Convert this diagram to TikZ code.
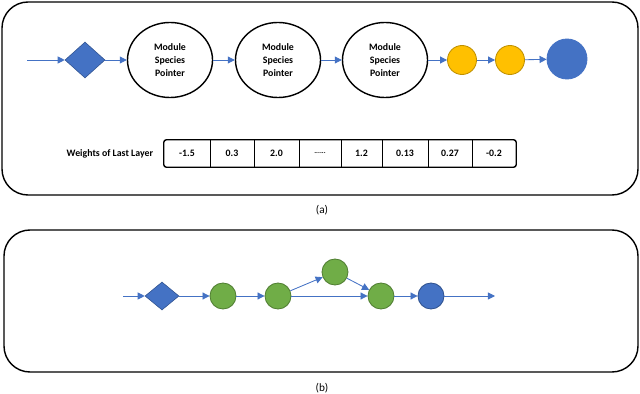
\documentclass[tikz,border=0pt]{standalone}
\usepackage{fontspec}
\setmainfont{Carlito}
\usepackage{tikz}
\usetikzlibrary{arrows.meta,shapes.geometric}

\definecolor{officeblue}{HTML}{4472C4}
\definecolor{darkblue}{HTML}{2F528F}
\definecolor{officegold}{HTML}{FFC000}
\definecolor{darkgold}{HTML}{BF9000}
\definecolor{officegreen}{HTML}{70AD47}
\definecolor{darkgreen}{HTML}{507E32}

\begin{document}
\begin{tikzpicture}[x=0.025cm, y=-0.025cm,
	every node/.style={font=\fontsize{7}{9}\selectfont},
	>={Triangle[length=5pt, width=5pt]},
	flow/.style={->, officeblue, line width=0.6pt},
	panel/.style={draw, line width=1pt, rounded corners=0.65cm},
	gate/.style={diamond, draw=darkblue, fill=officeblue, inner sep=0pt, minimum width=1cm, minimum height=0.9cm},
	module/.style={ellipse, draw, line width=1pt, minimum width=2.125cm, minimum height=1.875cm, align=center, font=\fontsize{7}{9}\selectfont\bfseries},
	spot/.style={circle, draw, line width=0.6pt, inner sep=0pt},
	caption/.style={font=\fontsize{8}{10}\selectfont}]
	\useasboundingbox (0,0) rectangle (640,394);
	% panel (a)
	\draw[panel] (2,2) rectangle (638,195);
	\coordinate (ain) at (27,60);
	\node[gate] (ad) at (85,60) {};
	\node[module] (e1) at (170,60) {Module\\Species\\Pointer};
	\node[module] (e2) at (278,60) {Module\\Species\\Pointer};
	\node[module] (e3) at (385,60) {Module\\Species\\Pointer};
	\node[spot, fill=officegold, draw=darkgold, minimum size=0.725cm] (y1) at (462,60) {};
	\node[spot, fill=officegold, draw=darkgold, minimum size=0.725cm] (y2) at (510,60) {};
	\node[spot, fill=officeblue, draw=officeblue, minimum size=1cm] (ab) at (567,59) {};
	\draw[flow] (ain) -- (ad);
	\draw[flow] (ad) -- (e1);
	\draw[flow] (e1) -- (e2);
	\draw[flow] (e2) -- (e3);
	\draw[flow] (e3) -- (y1);
	\draw[flow] (y1) -- (y2);
	\draw[flow] (y2) -- (ab);
	% weights table
	\node[anchor=east, font=\fontsize{7}{9}\selectfont\bfseries] (wl) at (158,154) {Weights of Last Layer};
	\foreach \i/\l/\r/\v in {1/164/210/-1.5, 2/210/254/0.3, 3/254/299/2.0, 4/299/341/{\fontsize{5}{6}\selectfont......}, 5/341/382/1.2, 6/382/428/0.13, 7/428/472/0.27, 8/472/516/-0.2}
		\node[font=\fontsize{7}{9}\selectfont\bfseries, minimum height=0.675cm, inner sep=0pt, minimum width=(\r-\l)*0.025cm] (w\i) at ({(\l+\r)/2},153.5) {\v};
	\draw[line width=1pt, rounded corners=2pt] (w1.north west) rectangle (w8.south east);
	\foreach \i in {1,...,7}
		\draw[line width=1pt] (w\i.north east) -- (w\i.south east);
	\node[caption] (la) at (322,210) {(a)};
	% panel (b)
	\draw[panel] (4,230) rectangle (638,372);
	\coordinate (bin) at (123,296);
	\coordinate (bout) at (495,296);
	\node[gate, minimum width=0.85cm, minimum height=0.7cm] (bd) at (162,296) {};
	\node[spot, fill=officegreen, draw=darkgreen, minimum size=0.65cm] (g1) at (223,296) {};
	\node[spot, fill=officegreen, draw=darkgreen, minimum size=0.65cm] (g2) at (278,296) {};
	\node[spot, fill=officegreen, draw=darkgreen, minimum size=0.65cm] (g3) at (335,272) {};
	\node[spot, fill=officegreen, draw=darkgreen, minimum size=0.65cm] (g4) at (381,296) {};
	\node[spot, fill=officeblue, draw=darkblue, minimum size=0.65cm] (bb) at (431,296) {};
	\draw[flow] (bin) -- (bd);
	\draw[flow] (bd) -- (g1);
	\draw[flow] (g1) -- (g2);
	\draw[flow] (g2) -- (g3);
	\draw[flow] (g3) -- (g4);
	\draw[flow] (g2) -- (g4);
	\draw[flow] (g4) -- (bb);
	\draw[flow] (bb) -- (bout);
	\node[caption] (lb) at (322,388) {(b)};
\end{tikzpicture}
\end{document}
